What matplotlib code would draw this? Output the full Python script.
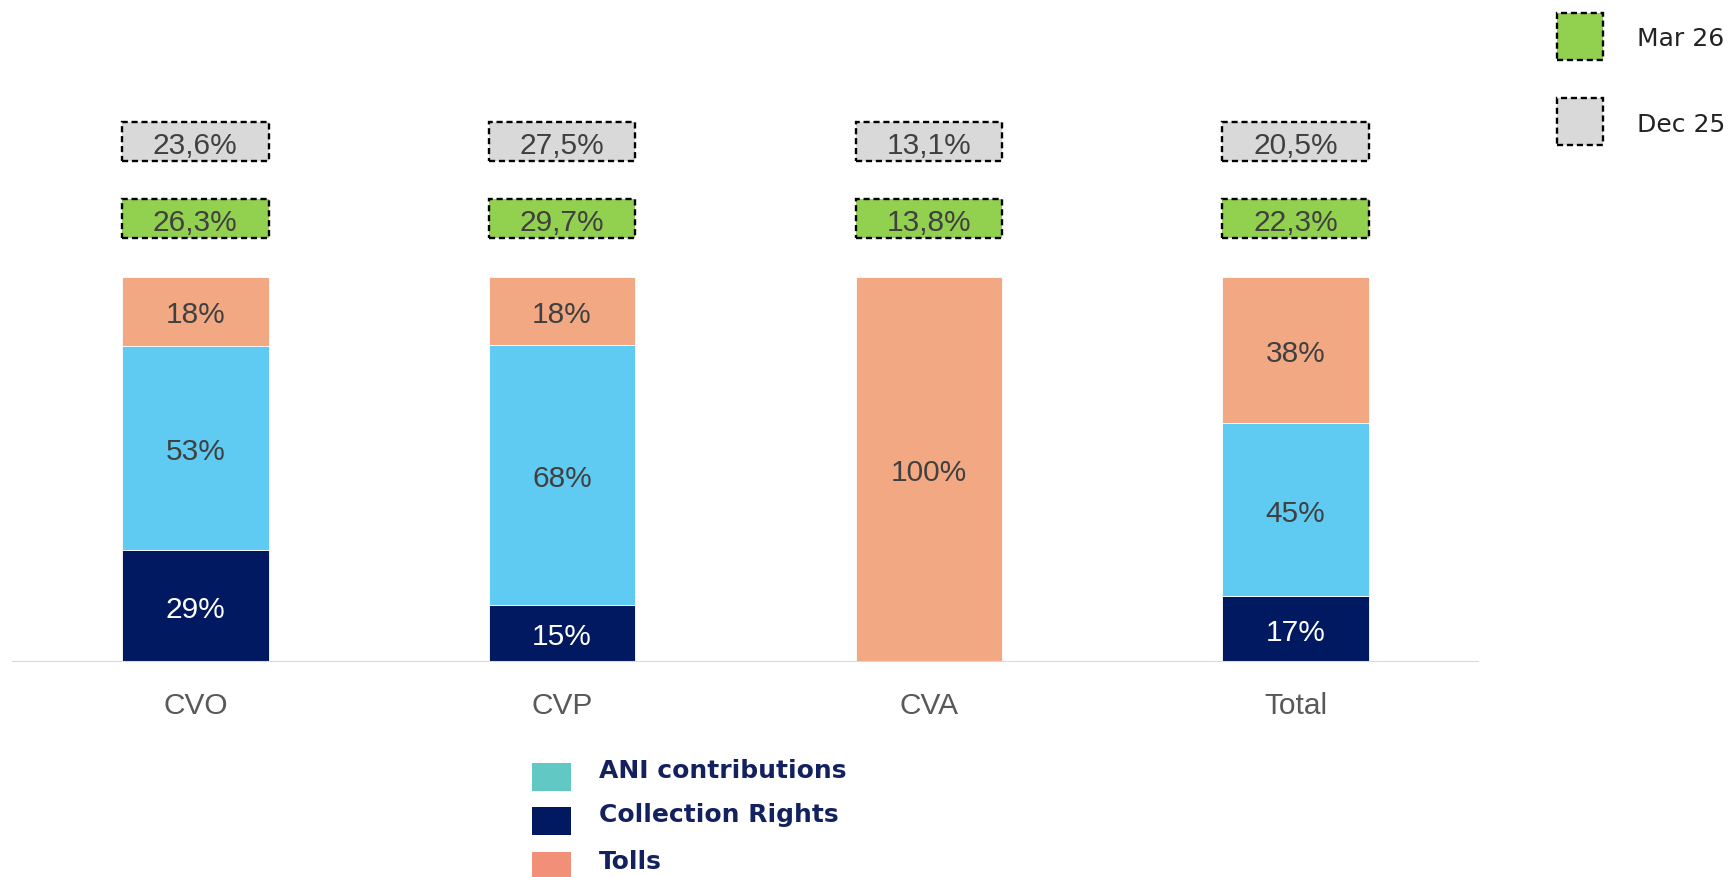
import matplotlib.pyplot as plt
from matplotlib.patches import Rectangle

categories = ["CVO", "CVP", "CVA", "Total"]
collection_rights = [29, 15, 0, 17]
ani_contributions = [53, 68, 0, 45]
tolls = [18, 18, 100, 38]
mar26 = ["26,3%", "29,7%", "13,8%", "22,3%"]
dec25 = ["23,6%", "27,5%", "13,1%", "20,5%"]

NAVY = "#001960"
BLUE = "#5FCBF2"
SALMON = "#F2A983"
GREEN = "#92D050"
GREY = "#D9D9D9"
TXT = "#404040"

W, H = 1731, 878
fig = plt.figure(figsize=(W / 100, H / 100), dpi=100)
ax = fig.add_axes([12 / W, 215 / H, 1467 / W, 663 / H])
ax.set_xlim(-0.5, 3.5)
ax.set_ylim(0, 172)
ax.axis("off")

bar_w = 0.40
num_font = dict(family=["Liberation Sans", "DejaVu Sans"], fontsize=21.5)
dy = -0.8  # small nudge so the digits sit visually centred
dash = (0, (2.6, 1.6))

for i, cat in enumerate(categories):
    segs = [(collection_rights[i], NAVY, "white"),
            (ani_contributions[i], BLUE, TXT),
            (tolls[i], SALMON, TXT)]
    total = sum(s[0] for s in segs)
    bottom = 0
    for val, col, tcol in segs:
        if val == 0:
            continue
        h = val / total * 100
        ax.bar(i, h, bar_w, bottom=bottom, color=col, edgecolor="white", linewidth=0.6)
        ax.text(i, bottom + h / 2 + dy, f"{val}%", ha="center", va="center", color=tcol, **num_font)
        bottom += h

    # period boxes above the bars
    for y0, face, lab in [(110, GREEN, mar26[i]), (130, GREY, dec25[i])]:
        ax.add_patch(Rectangle((i - bar_w / 2, y0), bar_w, 10, facecolor=face,
                               edgecolor="black", linewidth=1.7, linestyle=dash))
        ax.text(i, y0 + 5 + dy, lab, ha="center", va="center", color=TXT, **num_font)

    ax.text(i, -11.2, cat, ha="center", va="center", color="#595959", **num_font)

ax.plot([-0.5, 3.5], [0, 0], color="#D9D9D9", linewidth=1.5, solid_capstyle="butt")

# top right legend
for y_top, face, lab in [(14, GREEN, "Mar 26"), (99, GREY, "Dec 25")]:
    fig.patches.append(Rectangle((1557 / W, 1 - (y_top + 47) / H), 46 / W, 47 / H,
                                 transform=fig.transFigure, facecolor=face, edgecolor="black",
                                 linewidth=1.7, linestyle=dash))
    fig.text(1637 / W, 1 - (y_top + 25.5) / H, lab, ha="left", va="center",
             fontsize=18, color="#222222", family="DejaVu Sans")

# bottom legend
leg = [("ANI contributions", "#62C8C3", 764, 771),
       ("Collection Rights", NAVY, 808, 815),
       ("Tolls", "#F28F78", 853, 862)]
for lab, col, sq_top, ty in leg:
    fig.patches.append(Rectangle((532 / W, 1 - (sq_top + 28) / H), 39 / W, 28 / H,
                                 transform=fig.transFigure, facecolor=col, edgecolor="none"))
    fig.text(599 / W, 1 - ty / H, lab, ha="left", va="center", fontsize=18,
             fontweight="heavy", color="#13215E", family="DejaVu Sans")

fig.savefig("out.png", dpi=100, facecolor="white")
